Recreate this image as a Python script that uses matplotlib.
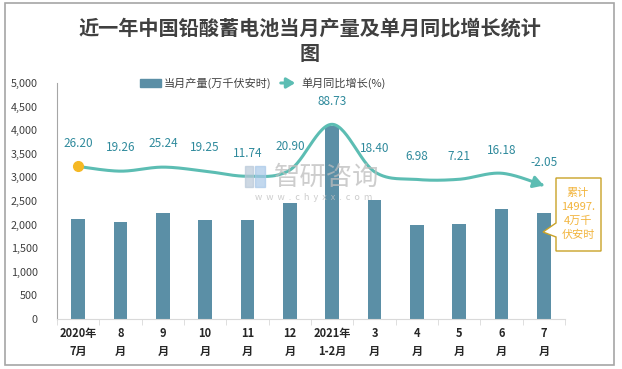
import matplotlib.pyplot as plt
import numpy as np
from matplotlib.patches import Rectangle, Polygon, FancyArrowPatch

plt.rcParams['font.family'] = ['Noto Sans CJK SC', 'DejaVu Sans']

# 数据
months = ['2020年\n7月', '8\n月', '9\n月', '10\n月', '11\n月', '12\n月',
          '2021年\n1-2月', '3\n月', '4\n月', '5\n月', '6\n月', '7\n月']
output = [2120, 2055, 2250, 2100, 2100, 2455, 4090, 2520, 1995, 2015, 2330, 2250]
growth = [26.20, 19.26, 25.24, 19.25, 11.74, 20.90, 88.73, 18.40, 6.98, 7.21, 16.18, -2.05]
yticks = [0, 500, 1000, 1500, 2000, 2500, 3000, 3500, 4000, 4500, 5000]

bar_c = '#5b8fa6'
line_c = '#5cbdb3'
lab_c = '#2f8a9c'

W, H = 622, 369
fig = plt.figure(figsize=(W / 100, H / 100), dpi=100)

# outer frame
fig.patches.append(Rectangle((5 / W, 1 - 365 / H), 609 / W, 362 / H, transform=fig.transFigure,
                             fill=False, ec='#a6a6a6', lw=1.2))

ax = fig.add_axes([57 / W, 1 - 319 / H, 508 / W, 236 / H])
x = np.arange(len(months))
ax.bar(x, output, width=0.32, color=bar_c, zorder=2)
ax.set_xlim(-0.5, 11.5)
ax.set_ylim(0, 5000)
ax.set_yticks(yticks)
ax.set_yticklabels([f'{v:,}' for v in yticks], fontsize=7.8, color='#404040')
ax.set_xticks(x)
ax.set_xticklabels(months, fontsize=8, fontweight='bold', color='#262626', linespacing=1.5)
ax.set_xticks(np.arange(-0.5, 12, 1), minor=True)
ax.tick_params(axis='x', which='major', length=0, pad=6)
ax.tick_params(axis='x', which='minor', length=4, color='#d9d9d9')
ax.tick_params(axis='y', length=0, pad=14)
for s in ['top', 'right']:
    ax.spines[s].set_visible(False)
ax.spines['left'].set_color('#a6a6a6')
ax.spines['bottom'].set_color('#d9d9d9')

# secondary axis for growth (hidden)
ax2 = ax.twinx()
ax2.set_ylim(-200, 150)
ax2.axis('off')

# smoothed line (Catmull-Rom through data points)
g = np.array(growth)
px = np.concatenate([[x[0]], x, [x[-1]]]).astype(float)
py = np.concatenate([[g[0]], g, [g[-1]]])
sx, sy = [], []
t = np.linspace(0, 1, 30)
for i in range(1, len(px) - 2):
    p0, p1, p2, p3 = [np.array([px[j], py[j]]) for j in (i - 1, i, i + 1, i + 2)]
    c1 = p1 + (p2 - p0) / 6
    c2 = p2 - (p3 - p1) / 6
    seg = ((1 - t)[:, None] ** 3 * p1 + 3 * ((1 - t) ** 2 * t)[:, None] * c1
           + 3 * ((1 - t) * t ** 2)[:, None] * c2 + (t ** 3)[:, None] * p2)
    sx.extend(seg[:, 0]); sy.extend(seg[:, 1])
ax2.plot(sx[:-3], sy[:-3], color=line_c, lw=2.2, zorder=3, solid_capstyle='round')
ax2.add_patch(FancyArrowPatch((sx[-6], sy[-6]), (sx[-1], sy[-1]), arrowstyle='-|>,head_length=6,head_width=3.5',
                              color=line_c, lw=2.2, mutation_scale=1, zorder=3))
ax2.plot([x[0]], [g[0]], 'o', color='#f5b824', ms=7, zorder=4)
for xi, gi in zip(x, g):
    ax2.annotate(f'{gi:.2f}', (xi, gi), xytext=(0, 12), textcoords='offset points',
                 ha='center', va='bottom', fontsize=8.5, color=lab_c, zorder=5)

# watermark
fig.text(327 / W, 1 - 177 / H, '智研咨询', fontsize=19, color='#bdbdbd', ha='center', va='center', alpha=0.75)
fig.text(314 / W, 1 - 197 / H, 'w  w  w  .  c  h  y  x  x  .  c  o  m', fontsize=6.5, color='#c0c0c0',
         ha='center', va='center', alpha=0.8)
fig.patches.append(Rectangle((245 / W, 1 - 187 / H), 8 / W, 21 / H, transform=fig.transFigure,
                             color='#b8c8d8', alpha=0.7))
fig.patches.append(Rectangle((255 / W, 1 - 187 / H), 10 / W, 21 / H, transform=fig.transFigure,
                             color='#a8c8e8', alpha=0.7))

# callout box
box = [(556, 178), (601, 178), (601, 251), (556, 251), (556, 237), (543, 232), (556, 223)]
fig.patches.append(Polygon([(a / W, 1 - b / H) for a, b in box], closed=True, transform=fig.transFigure,
                           fc='white', ec='#c9a227', lw=1, zorder=10))
fig.text(578 / W, 1 - 214 / H, '累计\n14997.\n4万千\n伏安时', fontsize=8, color='#f2b43c',
         ha='center', va='center', linespacing=1.45, zorder=11)

# title
fig.text(310 / W, 1 - 28 / H, '近一年中国铅酸蓄电池当月产量及单月同比增长统计', fontsize=14.5,
         fontweight='bold', color='#404040', ha='center', va='center')
fig.text(310 / W, 1 - 53 / H, '图', fontsize=14.5, fontweight='bold', color='#404040',
         ha='center', va='center')

# legend
fig.patches.append(Rectangle((140 / W, 1 - 87 / H), 21 / W, 8 / H, transform=fig.transFigure, color=bar_c))
fig.text(164 / W, 1 - 83 / H, '当月产量(万千伏安时)', fontsize=8, color='#404040', va='center')
fig.patches.append(FancyArrowPatch((278 / W, 1 - 83 / H), (298 / W, 1 - 83 / H), transform=fig.transFigure,
                                   arrowstyle='-|>,head_length=5,head_width=3', mutation_scale=1,
                                   color=line_c, lw=2.2))
fig.text(301 / W, 1 - 83 / H, '单月同比增长(%)', fontsize=8, color='#404040', va='center')

fig.savefig('out.png', dpi=100)
